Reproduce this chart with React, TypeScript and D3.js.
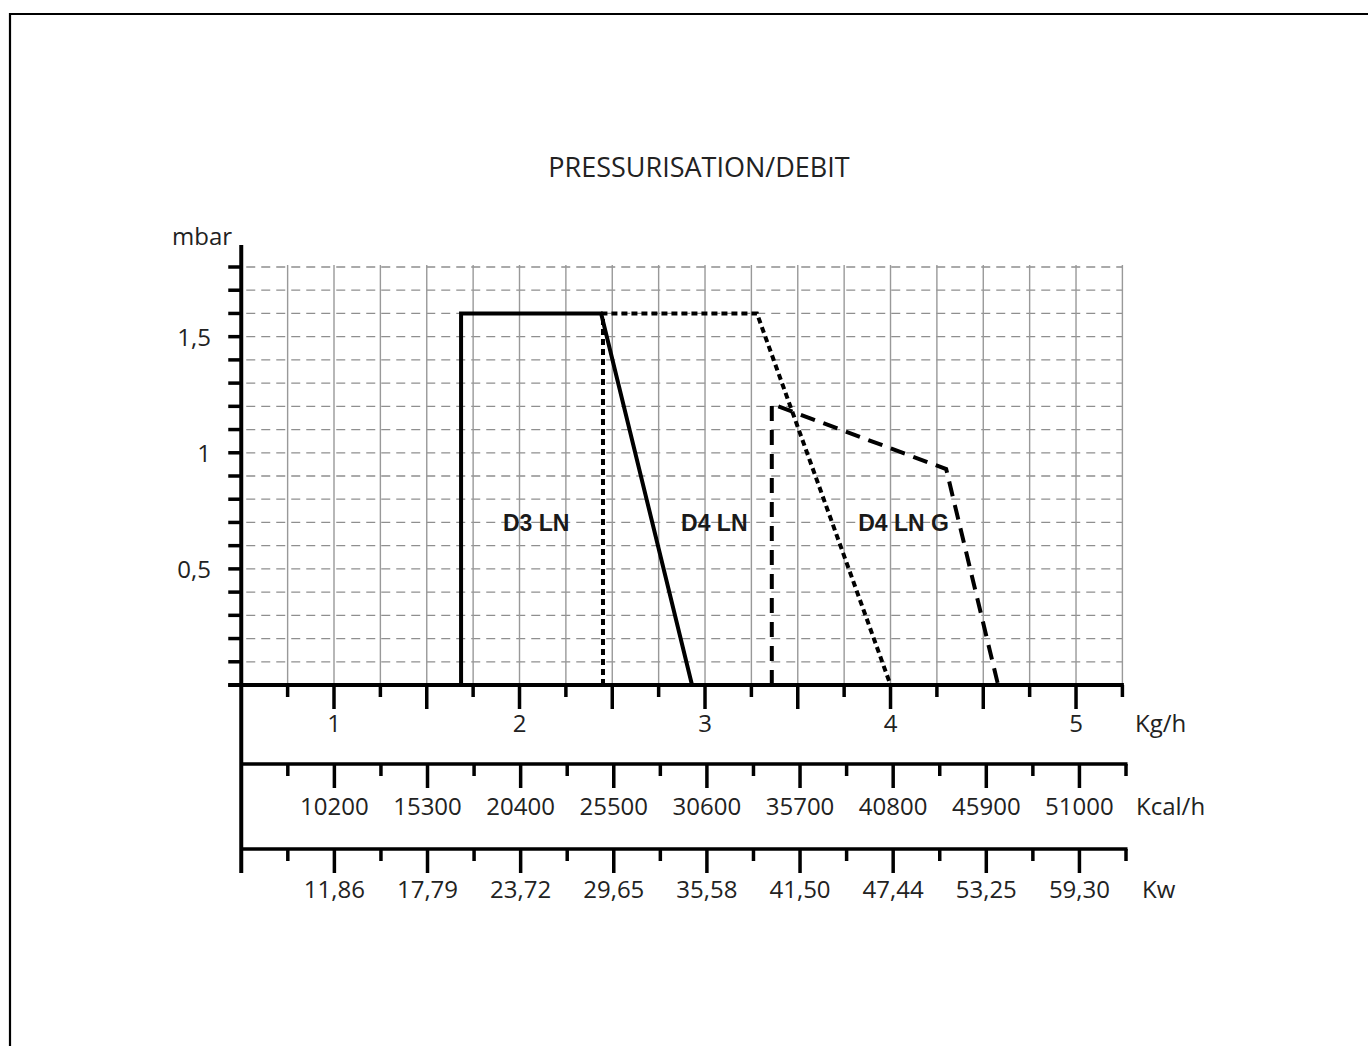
import React from 'react';
import * as d3 from 'd3';

// ---- data ----
const title = 'PRESSURISATION/DEBIT';
const yUnit = 'mbar';
const kgUnit = 'Kg/h';
const kcalUnit = 'Kcal/h';
const kwUnit = 'Kw';

const kgTickValues = [1, 2, 3, 4, 5];
const kcalTickValues = [10200, 15300, 20400, 25500, 30600, 35700, 40800, 45900, 51000];
const kwTickLabels = ['11,86', '17,79', '23,72', '29,65', '35,58', '41,50', '47,44', '53,25', '59,30'];
const kwTickKg = [1, 1.5, 2, 2.5, 3, 3.5, 4, 4.5, 5];
const mbarTickValues = [0.5, 1, 1.5];
const mbarTickLabels = ['0,5', '1', '1,5'];

const d3lnPoints: [number, number][] = [[1.685, 0], [1.685, 1.6], [2.44, 1.6], [2.93, 0], [1.685, 0]];
const d4lnPoints: [number, number][] = [[2.45, 0], [2.45, 1.6], [3.28, 1.6], [4.0, 0]];
const d4lngPoints: [number, number][] = [[3.36, 0], [3.36, 1.21], [4.3, 0.93], [4.58, 0]];

const seriesNames = ['D3 LN', 'D4 LN', 'D4 LN G'];
const seriesLabelKg = [2.09, 3.05, 4.07];
const seriesLabelMbar = [0.7, 0.7, 0.7];

const KCAL_PER_KG = 10200;

export default function App() {
  const W = 1368, H = 1046;
  const x = d3.scaleLinear().domain([0.5, 5.25]).range([241.25, 1122.4]);
  const y = d3.scaleLinear().domain([0, 1.8]).range([685, 267]);
  const xKcal = d3.scaleLinear().domain([0.5 * KCAL_PER_KG, 5.25 * KCAL_PER_KG]).range([241.25, 1126]);

  const line = d3.line<[number, number]>().x(d => x(d[0])).y(d => y(d[1]));

  const minorX = d3.range(3, 22).map(i => i * 0.25); // 0.75 .. 5.25
  const gridY = d3.range(1, 19).map(i => i / 10);
  const yTicks = d3.range(0, 19).map(i => i / 10);

  const axisY = { kg: 685, kcal: 764, kw: 849 };
  const numFont = "'Open Sans', 'DejaVu Sans', sans-serif";
  const textColor = '#222';

  const isMajor = (v: number) => Math.abs(v * 2 - Math.round(v * 2)) < 1e-6;

  const renderTicks = (y0: number, xs: number[], key: string) =>
    xs.map((v, i) => (
      <line key={key + i} x1={x(v)} x2={x(v)} y1={y0} y2={y0 + (isMajor(v) ? 24 : 12)} stroke="#000" strokeWidth={3.5} />
    ));

  return (
    <svg width={W} height={H} style={{ position: 'absolute', left: 0, top: 0, background: '#fff' }}>
      <rect x={0} y={0} width={W} height={H} fill="#fff" />
      {/* frame */}
      <line x1={10} x2={W} y1={14} y2={14} stroke="#000" strokeWidth={2.2} />
      <line x1={10} x2={10} y1={13} y2={H} stroke="#000" strokeWidth={2.2} />

      {/* title */}
      <text x={699} y={177} textAnchor="middle" fontFamily={numFont} fontSize={27} fill={textColor}>{title}</text>

      {/* grid */}
      {gridY.map((v, i) => (
        <line key={'gy' + i} x1={x(0.5) + 5} x2={x(5.25)} y1={y(v)} y2={y(v)} stroke="#8f8f8f" strokeWidth={1.3} strokeDasharray="9 6" />
      ))}
      {minorX.map((v, i) => (
        <line key={'gx' + i} x1={x(v)} x2={x(v)} y1={y(1.8) - 2} y2={y(0)} stroke="#999" strokeWidth={1.4} />
      ))}

      {/* series */}
      <path d={line(d3lnPoints) || ''} fill="none" stroke="#000" strokeWidth={4} strokeLinejoin="miter" />
      <path d={line(d4lnPoints) || ''} fill="none" stroke="#000" strokeWidth={4} strokeDasharray="6 4" />
      <path d={line(d4lngPoints) || ''} fill="none" stroke="#000" strokeWidth={4} strokeDasharray="15 9" />

      {seriesNames.map((n, i) => (
        <text key={'sl' + i} x={x(seriesLabelKg[i])} y={y(seriesLabelMbar[i])} dy="0.36em" textAnchor="middle"
          fontFamily="'Liberation Sans', Arial, sans-serif" fontWeight="bold" fontSize={23} fill="#1a1a1a">{n}</text>
      ))}

      {/* y axis */}
      <line x1={x(0.5)} x2={x(0.5)} y1={245} y2={873} stroke="#000" strokeWidth={4} />
      {yTicks.map((v, i) => (
        <line key={'yt' + i} x1={x(0.5) - 13} x2={x(0.5)} y1={y(v)} y2={y(v)} stroke="#000" strokeWidth={3.5} />
      ))}
      {mbarTickValues.map((v, i) => (
        <text key={'yl' + i} x={211} y={y(v) + 9} textAnchor="end" fontFamily={numFont} fontSize={24} fill={textColor}>{mbarTickLabels[i]}</text>
      ))}
      <text x={172} y={245} fontFamily={numFont} fontSize={24} fill={textColor}>{yUnit}</text>

      {/* Kg/h axis */}
      <line x1={x(0.5) - 13} x2={x(5.25) + 1.5} y1={axisY.kg} y2={axisY.kg} stroke="#000" strokeWidth={4} />
      {renderTicks(axisY.kg, minorX, 'kgt')}
      {kgTickValues.map((v, i) => (
        <text key={'kgl' + i} x={x(v)} y={732} textAnchor="middle" fontFamily={numFont} fontSize={24} fill={textColor}>{v}</text>
      ))}
      <text x={1135} y={732} fontFamily={numFont} fontSize={24} fill={textColor}>{kgUnit}</text>

      {/* Kcal/h axis */}
      <line x1={x(0.5)} x2={xKcal(5.25 * KCAL_PER_KG) + 1.5} y1={axisY.kcal} y2={axisY.kcal} stroke="#000" strokeWidth={3.6} />
      {minorX.map((v, i) => (
        <line key={'kct' + i} x1={xKcal(v * KCAL_PER_KG)} x2={xKcal(v * KCAL_PER_KG)} y1={axisY.kcal} y2={axisY.kcal + (isMajor(v) ? 24 : 12)} stroke="#000" strokeWidth={3.5} />
      ))}
      {kcalTickValues.map((v, i) => (
        <text key={'kcl' + i} x={xKcal(v)} y={815} textAnchor="middle" fontFamily={numFont} fontSize={24} fill={textColor}>{v}</text>
      ))}
      <text x={1136} y={815} fontFamily={numFont} fontSize={24} fill={textColor}>{kcalUnit}</text>

      {/* Kw axis */}
      <line x1={x(0.5)} x2={xKcal(5.25 * KCAL_PER_KG) + 1.5} y1={axisY.kw} y2={axisY.kw} stroke="#000" strokeWidth={3.6} />
      {minorX.map((v, i) => (
        <line key={'kwt' + i} x1={xKcal(v * KCAL_PER_KG)} x2={xKcal(v * KCAL_PER_KG)} y1={axisY.kw} y2={axisY.kw + (isMajor(v) ? 24 : 12)} stroke="#000" strokeWidth={3.5} />
      ))}
      {kwTickLabels.map((t, i) => (
        <text key={'kwl' + i} x={xKcal(kwTickKg[i] * KCAL_PER_KG)} y={898} textAnchor="middle" fontFamily={numFont} fontSize={24} fill={textColor}>{t}</text>
      ))}
      <text x={1142} y={898} fontFamily={numFont} fontSize={24} fill={textColor}>{kwUnit}</text>
    </svg>
  );
}
